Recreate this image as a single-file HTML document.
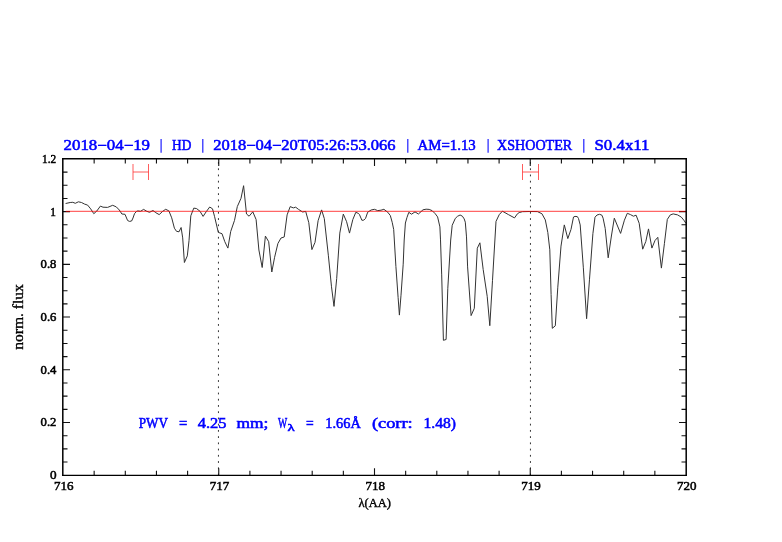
<!DOCTYPE html>
<html><head><meta charset="utf-8"><style>
html,body{margin:0;padding:0;background:#fff;}
svg{display:block;will-change:transform;}
.t{font-family:"Liberation Serif",serif;font-weight:normal;stroke-width:0.55px;}
</style></head><body>
<svg width="782" height="542" viewBox="0 0 782 542">
<rect width="782" height="542" fill="#fff"/>
<line x1="218.45" y1="158.9" x2="218.45" y2="475.25" stroke="#333" stroke-width="1" stroke-dasharray="1.8 4.43" stroke-dashoffset="3.06"/>
<line x1="530.45" y1="158.9" x2="530.45" y2="475.25" stroke="#333" stroke-width="1" stroke-dasharray="1.8 4.43" stroke-dashoffset="3.06"/>
<polyline points="65.6,203.5 70.2,202.5 72.8,202.3 75.3,203.3 78.4,201.8 81.5,202.5 84.6,204.1 87.6,205.1 90.7,208.9 93.8,213.7 96.8,211.0 100.4,206.1 103.0,207.2 107.6,207.4 112.7,205.3 116.3,206.9 119.3,210.0 121.9,214.0 125.0,214.3 127.6,220.5 129.5,221.4 131.6,221.0 133.0,218.0 134.5,213.7 136.5,211.4 137.8,210.9 140.5,211.3 143.6,209.4 146.8,211.3 149.5,212.3 153.0,210.5 155.8,212.7 159.2,214.6 162.7,211.3 165.7,209.3 168.9,210.9 171.7,217.8 174.4,228.2 176.5,231.3 179.0,231.8 181.1,227.5 182.7,237.9 184.4,262.5 187.3,255.9 189.0,240.7 190.8,215.8 193.8,208.1 196.6,208.6 200.0,211.3 203.1,216.4 206.3,211.6 209.7,207.0 212.5,208.8 214.6,216.7 218.3,232.4 222.0,233.7 224.8,241.7 227.9,248.1 230.7,231.5 234.5,220.4 237.3,206.6 241.0,198.3 243.6,185.7 246.5,214.0 249.1,216.2 252.8,211.8 256.1,219.5 258.9,250.0 262.2,267.5 265.4,236.1 268.7,241.7 271.8,272.0 274.6,257.3 277.9,243.5 281.0,238.0 284.2,237.0 287.1,214.9 290.2,206.6 293.3,207.9 295.7,207.2 298.4,209.3 302.6,212.0 305.7,211.4 308.8,222.7 311.9,249.6 315.0,242.4 318.1,220.7 321.6,209.9 324.3,218.6 328.4,255.8 331.5,286.8 334.0,306.4 336.7,278.5 339.8,233.1 343.3,214.1 346.6,221.7 349.5,233.1 352.8,219.6 355.8,212.3 358.2,213.3 359.4,214.4 361.9,220.3 363.8,220.1 365.5,218.5 367.7,212.2 371.1,210.0 374.4,209.3 377.7,210.6 381.0,210.2 383.9,209.3 387.7,212.2 390.3,215.5 392.2,222.3 393.7,229.5 395.9,266.4 398.1,297.4 399.4,315.1 401.0,295.2 403.2,264.2 404.2,240.0 405.4,223.0 406.9,217.7 408.8,212.3 411.5,214.2 415.0,211.9 418.4,214.0 423.0,209.8 426.1,209.2 429.2,209.4 432.2,210.7 435.3,213.8 437.6,216.9 439.9,226.9 440.5,239.9 441.7,274.9 443.4,340.3 446.1,339.5 447.8,288.3 450.7,240.0 452.2,225.3 455.3,218.4 457.5,216.3 460.1,215.0 462.4,216.2 464.2,218.9 465.3,222.2 466.5,236.9 467.6,266.9 471.1,315.6 474.3,308.3 477.3,248.2 479.9,242.8 483.2,269.6 487.2,296.3 489.8,325.7 492.5,280.3 496.0,221.4 499.2,214.7 502.4,211.2 508.6,214.7 514.5,217.9 517.5,213.7 519.2,212.6 522.4,211.7 529.9,211.5 537.4,211.6 541.9,213.7 545.3,219.9 547.8,232.4 549.8,249.8 551.1,294.6 552.3,328.3 555.3,325.8 557.8,287.2 561.0,246.1 564.3,224.9 567.8,238.6 571.0,229.4 573.5,217.0 575.0,216.4 577.3,216.6 578.5,218.5 580.2,224.9 583.3,267.2 586.6,318.7 589.5,279.2 592.9,233.6 595.0,217.2 597.0,215.0 599.6,214.3 601.9,215.2 603.1,218.2 605.2,228.4 608.2,257.8 611.4,236.0 614.3,218.2 620.6,233.4 624.4,220.2 627.3,213.3 630.5,214.6 633.4,216.2 636.1,215.2 639.2,223.3 642.7,249.2 645.8,241.5 648.5,228.9 651.9,248.1 655.0,240.5 657.8,237.3 661.4,268.1 664.4,243.7 667.3,219.4 670.3,214.9 673.2,213.9 677.6,214.9 681.3,217.1 684.3,220.8 686.0,223.5" fill="none" stroke="#333" stroke-width="1" stroke-linejoin="round"/>
<g stroke="#ff3333" stroke-width="1" fill="none" stroke-opacity="0.8">
<path d="M133 164V180M148.5 164V180M133 172H148.5"/>
<path d="M522.5 164V180M538.5 164V180M522.5 172H538.5"/>
</g>
<path d="M94.15 475.25V470.75M94.15 158.90V163.40M125.30 475.25V470.75M125.30 158.90V163.40M156.45 475.25V470.75M156.45 158.90V163.40M187.60 475.25V470.75M187.60 158.90V163.40M218.75 475.25V468.25M218.75 158.90V165.90M249.90 475.25V470.75M249.90 158.90V163.40M281.05 475.25V470.75M281.05 158.90V163.40M312.20 475.25V470.75M312.20 158.90V163.40M343.35 475.25V470.75M343.35 158.90V163.40M374.50 475.25V468.25M374.50 158.90V165.90M405.65 475.25V470.75M405.65 158.90V163.40M436.80 475.25V470.75M436.80 158.90V163.40M467.95 475.25V470.75M467.95 158.90V163.40M499.10 475.25V470.75M499.10 158.90V163.40M530.25 475.25V468.25M530.25 158.90V165.90M561.40 475.25V470.75M561.40 158.90V163.40M592.55 475.25V470.75M592.55 158.90V163.40M623.70 475.25V470.75M623.70 158.90V163.40M654.85 475.25V470.75M654.85 158.90V163.40M63.00 462.07H67.50M686.00 462.07H681.50M63.00 448.89H67.50M686.00 448.89H681.50M63.00 435.71H67.50M686.00 435.71H681.50M63.00 422.52H70.00M686.00 422.52H679.00M63.00 409.34H67.50M686.00 409.34H681.50M63.00 396.16H67.50M686.00 396.16H681.50M63.00 382.98H67.50M686.00 382.98H681.50M63.00 369.80H70.00M686.00 369.80H679.00M63.00 356.62H67.50M686.00 356.62H681.50M63.00 343.44H67.50M686.00 343.44H681.50M63.00 330.26H67.50M686.00 330.26H681.50M63.00 317.07H70.00M686.00 317.07H679.00M63.00 303.89H67.50M686.00 303.89H681.50M63.00 290.71H67.50M686.00 290.71H681.50M63.00 277.53H67.50M686.00 277.53H681.50M63.00 264.35H70.00M686.00 264.35H679.00M63.00 251.17H67.50M686.00 251.17H681.50M63.00 237.99H67.50M686.00 237.99H681.50M63.00 224.81H67.50M686.00 224.81H681.50M63.00 211.62H70.00M686.00 211.62H679.00M63.00 198.44H67.50M686.00 198.44H681.50M63.00 185.26H67.50M686.00 185.26H681.50M63.00 172.08H67.50M686.00 172.08H681.50" stroke="#111" stroke-width="1.1" fill="none"/>
<line x1="65.8" y1="211.45" x2="686" y2="211.45" stroke="#ff0000" stroke-opacity="0.6" stroke-width="1.25"/>
<path d="M62.8 158V476.1" stroke="#000" stroke-width="1.5"/>
<path d="M686.2 158V476.1" stroke="#000" stroke-width="1.5"/>
<path d="M62.05 158.8H686.95" stroke="#000" stroke-width="1.6"/>
<path d="M62.05 475.37H686.95" stroke="#000" stroke-width="1.4"/>
<g class="t"><text x="49.90" y="479.15" font-size="11.8" fill="#000" stroke="#000" textLength="6.60" lengthAdjust="spacingAndGlyphs"  stroke-width="0.5">0</text><text x="40.60" y="426.42" font-size="11.8" fill="#000" stroke="#000" textLength="15.80" lengthAdjust="spacingAndGlyphs"  stroke-width="0.5">0.2</text><text x="40.60" y="373.70" font-size="11.8" fill="#000" stroke="#000" textLength="15.80" lengthAdjust="spacingAndGlyphs"  stroke-width="0.5">0.4</text><text x="40.60" y="320.97" font-size="11.8" fill="#000" stroke="#000" textLength="15.80" lengthAdjust="spacingAndGlyphs"  stroke-width="0.5">0.6</text><text x="40.60" y="268.25" font-size="11.8" fill="#000" stroke="#000" textLength="15.80" lengthAdjust="spacingAndGlyphs"  stroke-width="0.5">0.8</text><text x="50.20" y="215.52" font-size="11.8" fill="#000" stroke="#000" textLength="5.70" lengthAdjust="spacingAndGlyphs"  stroke-width="0.5">1</text><text x="42.10" y="162.80" font-size="11.8" fill="#000" stroke="#000" textLength="14.10" lengthAdjust="spacingAndGlyphs"  stroke-width="0.5">1.2</text><text x="53.95" y="490.40" font-size="12.1" fill="#000" stroke="#000" textLength="19.50" lengthAdjust="spacingAndGlyphs"  stroke-width="0.5">716</text><text x="209.70" y="490.40" font-size="12.1" fill="#000" stroke="#000" textLength="19.50" lengthAdjust="spacingAndGlyphs"  stroke-width="0.5">717</text><text x="365.45" y="490.40" font-size="12.1" fill="#000" stroke="#000" textLength="19.50" lengthAdjust="spacingAndGlyphs"  stroke-width="0.5">718</text><text x="521.20" y="490.40" font-size="12.1" fill="#000" stroke="#000" textLength="19.50" lengthAdjust="spacingAndGlyphs"  stroke-width="0.5">719</text><text x="676.95" y="490.40" font-size="12.1" fill="#000" stroke="#000" textLength="19.50" lengthAdjust="spacingAndGlyphs"  stroke-width="0.5">720</text><text x="63.60" y="150.40" font-size="14.9" fill="#0000ff" stroke="#0000ff" textLength="86.40" lengthAdjust="spacingAndGlyphs" >2018−04−19</text><text x="172.00" y="150.40" font-size="14.9" fill="#0000ff" stroke="#0000ff" textLength="19.30" lengthAdjust="spacingAndGlyphs" >HD</text><text x="213.20" y="150.40" font-size="14.9" fill="#0000ff" stroke="#0000ff" textLength="182.40" lengthAdjust="spacingAndGlyphs" >2018−04−20T05:26:53.066</text><text x="417.50" y="150.40" font-size="14.9" fill="#0000ff" stroke="#0000ff" textLength="58.30" lengthAdjust="spacingAndGlyphs" >AM=1.13</text><text x="497.10" y="150.40" font-size="14.9" fill="#0000ff" stroke="#0000ff" textLength="75.10" lengthAdjust="spacingAndGlyphs" >XSHOOTER</text><text x="594.50" y="150.40" font-size="14.9" fill="#0000ff" stroke="#0000ff" textLength="55.00" lengthAdjust="spacingAndGlyphs" >S0.4x11</text><text x="138.80" y="427.60" font-size="14.9" fill="#0000ff" stroke="#0000ff" textLength="29.20" lengthAdjust="spacingAndGlyphs" >PWV</text><text x="179.10" y="427.60" font-size="14.9" fill="#0000ff" stroke="#0000ff" textLength="8.30" lengthAdjust="spacingAndGlyphs" >=</text><text x="197.70" y="427.60" font-size="14.9" fill="#0000ff" stroke="#0000ff" textLength="28.70" lengthAdjust="spacingAndGlyphs" >4.25</text><text x="236.50" y="427.60" font-size="14.9" fill="#0000ff" stroke="#0000ff" textLength="31.90" lengthAdjust="spacingAndGlyphs" >mm;</text><text x="277.90" y="427.60" font-size="14.9" fill="#0000ff" stroke="#0000ff" textLength="9.20" lengthAdjust="spacingAndGlyphs" >W</text><text x="306.00" y="427.60" font-size="14.9" fill="#0000ff" stroke="#0000ff" textLength="7.70" lengthAdjust="spacingAndGlyphs" >=</text><text x="325.30" y="427.60" font-size="14.9" fill="#0000ff" stroke="#0000ff" textLength="35.50" lengthAdjust="spacingAndGlyphs" >1.66Å</text><text x="371.90" y="427.60" font-size="14.9" fill="#0000ff" stroke="#0000ff" textLength="40.80" lengthAdjust="spacingAndGlyphs" >(corr:</text><text x="423.50" y="427.60" font-size="14.9" fill="#0000ff" stroke="#0000ff" textLength="32.50" lengthAdjust="spacingAndGlyphs" >1.48)</text><text x="287.60" y="430.50" font-size="10.5" fill="#0000ff" stroke="#0000ff" textLength="7.20" lengthAdjust="spacingAndGlyphs" >λ</text>
<text x="358.4" y="506.5" font-size="13" stroke="#000" stroke-width="0.4" textLength="32.5" lengthAdjust="spacingAndGlyphs">λ(AA)</text>
<text transform="translate(22.9,349.7) rotate(-90)" font-size="14.6" stroke="#000" stroke-width="0.35" textLength="65.6" lengthAdjust="spacingAndGlyphs">norm. flux</text>
</g>
<path d="M161.1 139.1V152.7M202.8 139.1V152.7M407.8 139.1V152.7M488.1 139.1V152.7M583.8 139.1V152.7" stroke="#2020ff" stroke-width="1.2"/>
</svg>
</body></html>
